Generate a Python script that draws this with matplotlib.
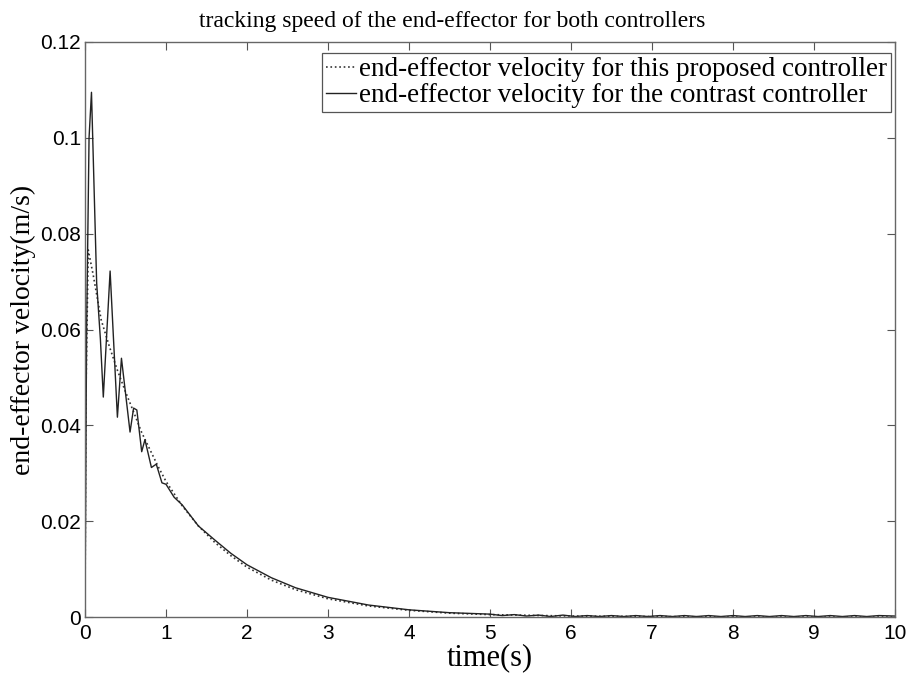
import matplotlib

matplotlib.use("Agg")
import matplotlib.pyplot as plt

# ---------------------------------------------------------------------------
# Data
# ---------------------------------------------------------------------------
# proposed controller (dotted)
t_prop = [0.0, 0.01, 0.04, 0.1, 0.2, 0.3, 0.4, 0.5, 0.6, 0.7, 0.8, 0.9,
          1.0, 1.2, 1.4, 1.6, 1.8, 2.0, 2.3, 2.6, 3.0, 3.5, 4.0, 4.5,
          5.0, 6.0, 7.0, 8.0, 9.0, 10.0]
v_prop = [0.0, 0.045, 0.0766, 0.0715, 0.062, 0.0565, 0.0515, 0.047, 0.0428,
          0.0385, 0.035, 0.0315, 0.0283, 0.0232, 0.019, 0.0156, 0.0128,
          0.0104, 0.0077, 0.0057, 0.0038, 0.0023, 0.0014, 0.0008, 0.0005,
          0.0002, 0.0001, 0.0, 0.0, 0.0]

# contrast controller (solid)
t_cont = [0.0, 0.02, 0.05, 0.08, 0.144, 0.19, 0.226, 0.31, 0.40, 0.45,
          0.556, 0.60, 0.64, 0.70, 0.74, 0.82, 0.88, 0.95, 1.0, 1.1, 1.2,
          1.4, 1.6, 1.8, 2.0, 2.3, 2.6, 3.0, 3.5, 4.0, 4.5, 5.0,
          5.15, 5.3, 5.45, 5.6, 5.75, 5.9, 6.05, 6.2, 6.35, 6.5, 6.65,
          6.8, 6.95, 7.1, 7.25, 7.4, 7.55, 7.7, 7.85, 8.0, 8.15, 8.3,
          8.45, 8.6, 8.75, 8.9, 9.05, 9.2, 9.35, 9.5, 9.65, 9.8, 10.0]
v_cont = [0.0, 0.06, 0.1, 0.1095, 0.0697, 0.058, 0.0459, 0.0722, 0.0417,
          0.054, 0.0386, 0.0436, 0.0432, 0.0345, 0.037, 0.0312, 0.0319,
          0.028, 0.0277, 0.025, 0.0234, 0.019, 0.0161, 0.0133, 0.0109,
          0.0082, 0.0061, 0.0041, 0.0025, 0.0015, 0.0009, 0.0006,
          0.0003, 0.0005, 0.0002, 0.0004, 0.0001, 0.0004, 0.0001, 0.0003,
          0.0001, 0.0003, 0.0001, 0.0003, 0.0001, 0.0003, 0.0001, 0.0003,
          0.0001, 0.0003, 0.0001, 0.0003, 0.0001, 0.0003, 0.0001, 0.0003,
          0.0001, 0.0003, 0.0001, 0.0003, 0.0001, 0.0003, 0.0001, 0.0003,
          0.0002]

x_ticks = [0, 1, 2, 3, 4, 5, 6, 7, 8, 9, 10]
y_ticks = [0, 0.02, 0.04, 0.06, 0.08, 0.1, 0.12]
y_tick_labels = ["0", "0.02", "0.04", "0.06", "0.08", "0.1", "0.12"]

SERIF = "Liberation Serif"
SANS = "Liberation Sans"

fig = plt.figure(figsize=(9.12, 6.73), dpi=100)
ax = fig.add_axes([0.0932, 0.0832, 0.8882, 0.8544])

ax.plot(t_prop, v_prop, color="#333333", linestyle=":", linewidth=1.2,
        label="end-effector velocity for this proposed controller")
ax.plot(t_cont, v_cont, color="#222222", linestyle="-", linewidth=1.0,
        label="end-effector velocity for the contrast controller")

ax.set_xlim(0, 10)
ax.set_ylim(0, 0.12)
ax.set_xticks(x_ticks)
ax.set_yticks(y_ticks)
ax.set_yticklabels(y_tick_labels)
ax.tick_params(direction="in", top=True, right=True, length=6,
               width=0.8, colors="#555555", labelcolor="black")
ax.tick_params(axis="x", pad=5)
ax.tick_params(axis="y", pad=3)
for lbl in ax.get_xticklabels() + ax.get_yticklabels():
    lbl.set_fontfamily(SANS)
    lbl.set_fontsize(15)
for sp in ax.spines.values():
    sp.set_color("#666666")
    sp.set_linewidth(1.0)

ax.set_title("tracking speed of the end-effector for both controllers",
             family=SERIF, fontsize=17, pad=11, x=0.453)
ax.set_xlabel("time(s)", family=SERIF, fontsize=22, labelpad=0)
ax.set_ylabel("end-effector velocity(m/s)", family=SERIF, fontsize=20,
              labelpad=3)

leg = ax.legend(loc="upper right", bbox_to_anchor=(0.995, 0.981),
                borderaxespad=0, prop={"family": SERIF, "size": 19.5},
                handlelength=1.1, handletextpad=0.1, borderpad=0.15,
                labelspacing=0.05, fancybox=False, framealpha=1)
leg.get_frame().set_edgecolor("#555555")
leg.get_frame().set_linewidth(0.9)

plt.savefig("out.png", dpi=100)
